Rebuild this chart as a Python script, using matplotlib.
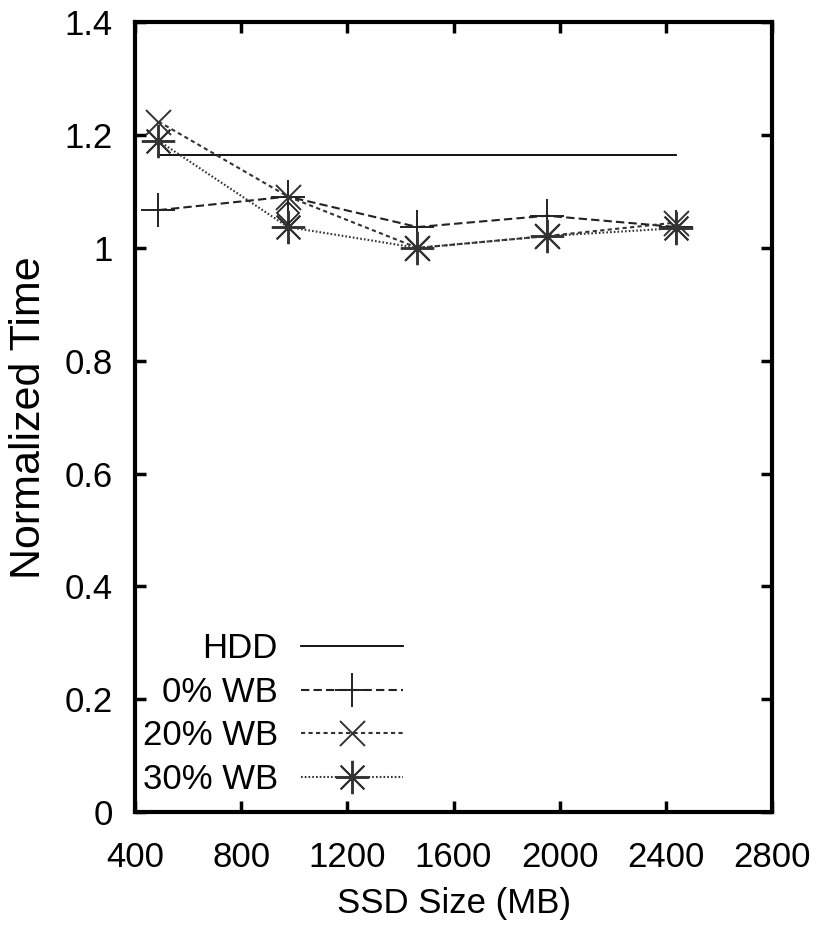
import matplotlib
matplotlib.use("Agg")
import matplotlib.pyplot as plt

plt.rcParams['font.family'] = ['Liberation Sans', 'DejaVu Sans']

# SSD sizes (MB)
ssd_size = [488, 976, 1464, 1952, 2440]

hdd_x = [488, 2440]
hdd_y = [1.165, 1.165]

wb0 = [1.067, 1.091, 1.037, 1.057, 1.037]
wb20 = [1.224, 1.091, 1.0, 1.021, 1.045]
wb30 = [1.19, 1.037, 1.0, 1.021, 1.035]

# stray diamond marker visible in the original
extra_x = [976]
extra_y = [1.062]

x_ticks = [400, 800, 1200, 1600, 2000, 2400, 2800]
y_ticks = [0, 0.2, 0.4, 0.6, 0.8, 1.0, 1.2, 1.4]
y_labels = ["0", "0.2", "0.4", "0.6", "0.8", "1", "1.2", "1.4"]

fs = 25

fig = plt.figure(figsize=(8.19, 9.27), dpi=100)
ax = fig.add_axes([0.165, 0.124, 0.7776, 0.852])

star = (8, 2, 0)
ax.plot(hdd_x, hdd_y, color="black", lw=1.3, label="HDD")
ax.plot(ssd_size, wb0, color="#222222", lw=1.5, ls=(0, (4, 2)),
        marker="+", ms=24, mew=1.4, label="0% WB")
ax.plot(ssd_size, wb20, color="#333333", lw=1.5, ls=(0, (2, 1.6)),
        marker="x", ms=18, mew=1.4, label="20% WB")
ax.plot(ssd_size, wb30, color="#333333", lw=1.5, ls=(0, (0.8, 1.0)),
        marker=star, ms=24, mew=1.4, label="30% WB")
ax.plot(extra_x, extra_y, ls="none", marker="D", ms=11, mfc="none",
        mec="#222222", mew=1.3)

ax.set_xlim(400, 2800)
ax.set_ylim(0, 1.4)
ax.set_xticks(x_ticks)
ax.set_yticks(y_ticks)
ax.set_yticklabels(y_labels)
ax.tick_params(direction="in", length=8, width=2.5, labelsize=fs,
               top=True, right=True, pad=16)
ax.tick_params(axis="x", pad=21)
for s in ax.spines.values():
    s.set_linewidth(3)

ax.set_xlabel("SSD Size (MB)", fontsize=fs, labelpad=9)
ax.set_ylabel("Normalized Time", fontsize=31, labelpad=11)

leg = ax.legend(loc="lower right", bbox_to_anchor=(0.421, 0.02),
                frameon=False, markerfirst=False, fontsize=fs,
                handlelength=2.95, handletextpad=0.66, labelspacing=0.31,
                borderpad=0, borderaxespad=0)

fig.savefig("out.png", dpi=100)
